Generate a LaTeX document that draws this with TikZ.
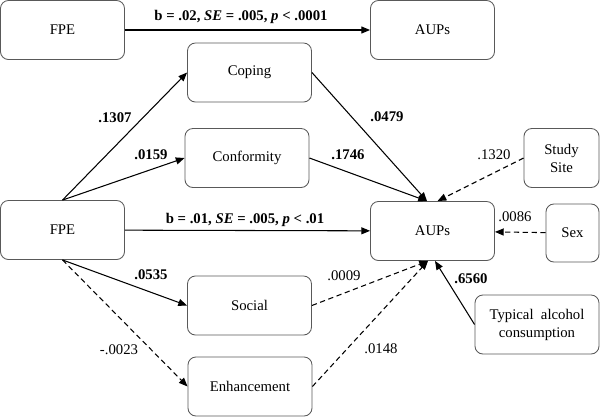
\documentclass[tikz,border=0pt]{standalone}
\usepackage{fontspec}
\setmainfont{Liberation Serif}
\usepackage{tikz}
\usetikzlibrary{arrows.meta,positioning}
\newcommand\diagfont{\fontsize{8.4}{10.2}\selectfont}
\tikzset{box/.style={draw=black!65, line width=0.5pt, rounded corners=4.5pt,
        minimum width=2.48cm, minimum height=1.18cm, inner sep=1pt, align=center, font=\diagfont},
    sig/.style={line width=0.6pt, -{Triangle[length=5pt,width=4pt]}},
    nsig/.style={sig, dash pattern=on 3pt off 2pt},
    coef/.style={inner sep=1pt, font=\diagfont}}

\begin{document}
\begin{tikzpicture}[x=0.02cm, y=-0.02cm]
                \useasboundingbox (0,0) rectangle (600,417);

                % total effect
                \node [box] (fpeT) at (62.5,30) {FPE};
                \node [box] (aupsT) at (432.5,30) {AUPs};
                \node [coef] (cT) at (241,17) {\bfseries b = .02, \textit{SE} = .005, \textit{p} < .0001};
                \path[sig] (fpeT) edge (aupsT);

                % mediation model
                \node [box] (fpe) at (62.5,230) {FPE};
                \node [box] (aups) at (432.5,231) {AUPs};
                \node [box] (coping) at (249.5,72.5) {Coping};
                \node [box] (conf) at (247,158) {Conformity};
                \node [box] (social) at (249.5,305.5) {Social};
                \node [box] (enh) at (250,386.5) {Enhancement};
                \node [box, minimum width=1.5cm] (site) at (561.5,158) {Study\\Site};
                \node [box, minimum width=1.06cm, minimum height=1.16cm] (sex) at (572.5,233) {Sex};
                \node [box] (alc) at (537,324.5) {Typical\enspace alcohol\\consumption};

                \coordinate (inN) at ([xshift=-0.11cm]aups.north);
                \coordinate (inNe) at ([xshift=0.1cm]aups.north);
                \coordinate (inS) at ([xshift=-0.09cm]aups.south);
                \coordinate (inSe) at ([xshift=0.05cm]aups.south);

                \path[sig] (fpe.north) edge (coping.west) edge (conf.west)
                    (fpe) edge (aups)
                    (fpe.south) edge (social.west)
                    (coping.east) edge (inN)
                    (conf.east) edge (inN)
                    (alc.west) edge (inSe);
                \path[nsig] (fpe.south) edge (enh.west)
                    (social.east) edge (inS)
                    (enh.east) edge (inS)
                    (site.west) edge (inNe)
                    (sex) edge (aups);

                \node [coef] (c1) at (115,118) {\bfseries .1307};
                \node [coef] (c2) at (151,155) {\bfseries .0159};
                \node [coef] (c3) at (151,275) {\bfseries .0535};
                \node [coef] (c4) at (119,350) {-.0023};
                \node [coef] (c5) at (387,117) {\bfseries .0479};
                \node [coef] (c6) at (348,155) {\bfseries .1746};
                \node [coef] (c7) at (344,276) {.0009};
                \node [coef] (c8) at (381,349) {.0148};
                \node [coef] (c9) at (494,155) {.1320};
                \node [coef] (c10) at (515,217) {.0086};
                \node [coef] (c11) at (471,279) {\bfseries .6560};
                \node [coef] (cD) at (245,220) {\bfseries b = .01, \textit{SE} = .005, \textit{p} < .01};
\end{tikzpicture}
\end{document}
